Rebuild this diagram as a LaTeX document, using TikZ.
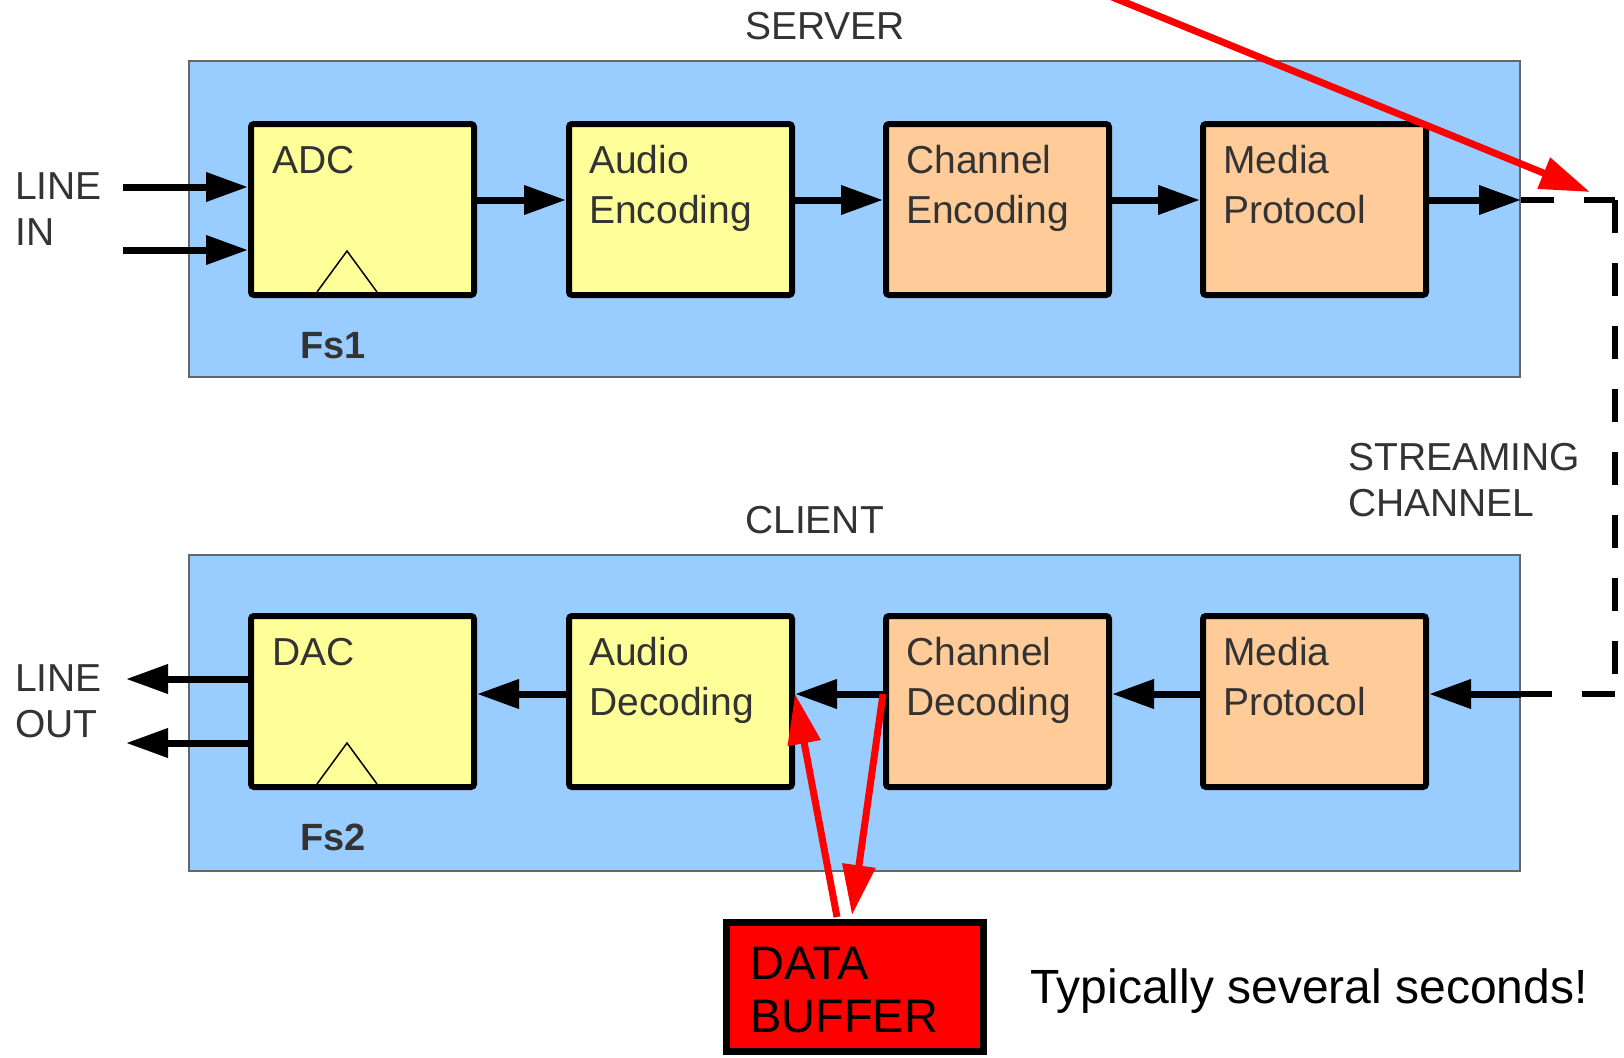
\documentclass[tikz,border=0pt]{standalone}
\usepackage{fontspec}
\setmainfont{Liberation Sans}
\usetikzlibrary{arrows.meta,calc}

\definecolor{panelfill}{HTML}{99CCFF}
\definecolor{panelline}{HTML}{666666}
\definecolor{yellowblock}{HTML}{FFFF99}
\definecolor{orangeblock}{HTML}{FFCC99}
\definecolor{ink}{HTML}{333333}

\tikzset{
  panel/.style={draw=panelline, line width=2pt, fill=panelfill, inner sep=0pt,
    minimum width=1331pt, minimum height=316pt, anchor=north west},
  block/.style={draw=black, line width=6pt, rounded corners=3pt, inner sep=0pt,
    minimum width=223pt, minimum height=171pt},
  yblock/.style={block, fill=yellowblock},
  oblock/.style={block, fill=orangeblock},
  txt/.style={inner sep=0pt, text=ink, font=\fontsize{39pt}{50pt}\selectfont, anchor=base west},
  sidetxt/.style={inner sep=0pt, text=ink, font=\fontsize{39pt}{46pt}\selectfont, anchor=base west},
  fslabel/.style={inner sep=0pt, text=ink, font=\fontsize{38pt}{46pt}\selectfont\bfseries, anchor=base west},
  flow/.style={line width=7pt, -{Triangle[length=42pt,width=28pt]}},
  redflow/.style={draw=red, line width=7pt, -{Triangle[length=50pt,width=32pt, fill=red]}},
  chan/.style={line width=6pt, line cap=rect, dash pattern=on 27pt off 36pt},
  clock/.style={line width=1.5pt},
}

\newcommand{\twolines}[2]{\parbox[t]{260pt}{#1\\#2}}

\begin{document}
\begin{tikzpicture}[x=1pt, y=-1pt]
\useasboundingbox (0,0) rectangle (1624,1057);

% server and client panels
\node[panel] (server) at (188,60) {};
\node[panel] (client) at (188,554) {};
\node[sidetxt] (servert) at (745,40) {SERVER};
\node[sidetxt] (clientt) at (745,533) {CLIENT};

% server chain
\node[yblock] (adc)  at (362.5,209.5) {};
\node[yblock] (aenc) at (680.5,209.5) {};
\node[oblock] (cenc) at (997.5,209.5) {};
\node[oblock] (mps)  at (1314.5,209.5) {};

% client chain
\node[yblock] (dac)  at (362.5,701.5) {};
\node[yblock] (adec) at (680.5,701.5) {};
\node[oblock] (cdec) at (997.5,701.5) {};
\node[oblock] (mpc)  at (1314.5,701.5) {};

% block captions
\node[txt] (adct)  at ($(adc.north west)+(24,52)$) {ADC};
\node[txt] (aenct) at ($(aenc.north west)+(23,52)$) {\twolines{Audio}{Encoding}};
\node[txt] (cenct) at ($(cenc.north west)+(23,52)$) {\twolines{Channel}{Encoding}};
\node[txt] (mpst)  at ($(mps.north west)+(23,52)$) {\twolines{Media}{Protocol}};
\node[txt] (dact)  at ($(dac.north west)+(24,52)$) {DAC};
\node[txt] (adect) at ($(adec.north west)+(23,52)$) {\twolines{Audio}{Decoding}};
\node[txt] (cdect) at ($(cdec.north west)+(23,52)$) {\twolines{Channel}{Decoding}};
\node[txt] (mpct)  at ($(mpc.north west)+(23,52)$) {\twolines{Media}{Protocol}};

% sample-clock marks
\draw[clock] ($(adc.south)+(-45.5,-6)$) -- ($(adc.south)+(-15.5,-47)$) -- ($(adc.south)+(14.5,-6)$);
\draw[clock] ($(dac.south)+(-45.5,-6)$) -- ($(dac.south)+(-15.5,-47)$) -- ($(dac.south)+(14.5,-6)$);

\node[fslabel] (fs1) at (300,358) {Fs1};
\node[fslabel] (fs2) at (300,850) {Fs2};

% line in / line out
\node[sidetxt] (linein) at (15,199) {\twolines{LINE}{IN}};
\node[sidetxt] (lineout) at (15,691) {\twolines{LINE}{OUT}};
\coordinate (in1) at (123,187);
\coordinate (in2) at (123,250);
\coordinate (out1) at (126,679);
\coordinate (out2) at (126,743);
\draw[flow] (in1) -- (adc.west |- in1);
\draw[flow] (in2) -- (adc.west |- in2);
\draw[flow] (dac.west |- out1) -- (out1);
\draw[flow] (dac.west |- out2) -- (out2);

% signal flow
\coordinate (rowS) at (0,200);
\coordinate (rowC) at (0,694);
\draw[flow] (adc.east |- rowS) -- (aenc.west |- rowS);
\draw[flow] (aenc.east |- rowS) -- (cenc.west |- rowS);
\draw[flow] (cenc.east |- rowS) -- (mps.west |- rowS);
\coordinate (sendS) at (server.east |- rowS);
\coordinate (recvC) at (client.east |- rowC);
\draw[flow] (mps.east |- rowS) -- (sendS);
\draw[flow] (recvC) -- (mpc.east |- rowC);
\draw[flow] (mpc.west |- rowC) -- (cdec.east |- rowC);
\draw[flow] (cdec.west |- rowC) -- (adec.east |- rowC);
\draw[flow] (adec.west |- rowC) -- (dac.east |- rowC);

% streaming channel, each leg dashed on its own
\coordinate (chanTop) at (1615,200);
\coordinate (chanBot) at (1615,694);
\draw[chan] ([xshift=3pt]sendS) -- ([xshift=-3pt]chanTop);
\draw[chan] ([yshift=-3pt]chanTop) -- ([yshift=3pt]chanBot);
\draw[chan] ([xshift=-3pt]chanBot) -- ([xshift=3pt]recvC);
\node[sidetxt] (streamt) at (1348,470) {\twolines{STREAMING}{CHANNEL}};

% data buffer
\node[draw=black, line width=7pt, fill=red, inner sep=0pt, minimum width=257pt, minimum height=129pt] (buf) at (855,987) {};
\node[inner sep=0pt, text=black, font=\fontsize{47pt}{53pt}\selectfont, anchor=base west] (buft) at ($(buf.north west)+(27,60)$) {\twolines{DATA}{BUFFER}};
\node[inner sep=0pt, text=black, font=\fontsize{48pt}{53pt}\selectfont, anchor=base west] (note) at (1030,1003) {Typically several seconds!};

\draw[redflow] ($(buf.north west)+(114,-2)$) -- (adec.east |- rowC);
\draw[redflow] (cdec.west |- rowC) -- ($(buf.north west)+(129,-4)$);

% pointer to the streaming channel
\coordinate (pointerFrom) at (1112,-3);
\coordinate (pointerTo) at (1590,192);
\draw[redflow] (pointerFrom) -- (pointerTo);
\end{tikzpicture}
\end{document}
